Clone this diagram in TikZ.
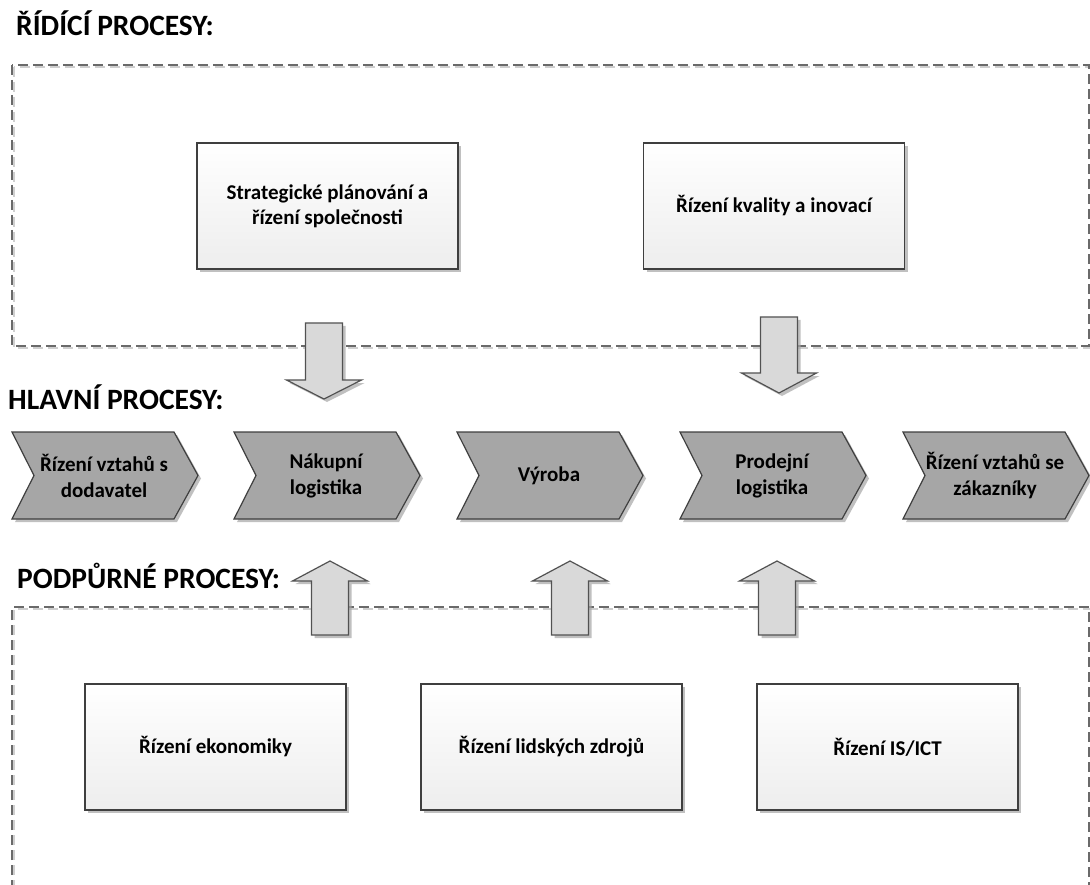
\documentclass[tikz,border=0pt]{standalone}
\usepackage{fontspec}
\setmainfont{Carlito}
\usetikzlibrary{shadows}
\definecolor{edge}{HTML}{3F3F3F}
\definecolor{chevfill}{HTML}{A6A6A6}
\definecolor{arrfill}{HTML}{D9D9D9}
\definecolor{dashdark}{HTML}{6A6A6A}
\definecolor{dashlight}{HTML}{CFCFCF}
\begin{document}
\begin{tikzpicture}[x=1pt,y=-1pt,
  shade3/.style={drop shadow={shadow xshift=3pt,shadow yshift=-3pt,fill=black!35,opacity=0.7}},
  box/.style={draw=edge, line width=1.2pt, top color=white, bottom color=black!7,
    minimum width=261pt, minimum height=126pt, inner sep=0pt, shade3,
    font=\bfseries\fontsize{21}{25}\selectfont, align=center, text=black},
  chev/.style={draw=edge, fill=chevfill, line width=1.2pt, line join=miter, shade3},
  chevtext/.style={font=\bfseries\fontsize{21}{26}\selectfont, align=center, text=black, inner sep=0pt},
  blockarrow/.style={draw=edge!90, fill=arrfill, line width=1.2pt, shade3},
  hdr/.style={font=\bfseries\fontsize{29.5}{33}\selectfont, text=black, inner sep=0pt, anchor=base west},
  dashshadow/.style={draw=dashlight, line width=1.4pt, dash pattern=on 10pt off 5pt},
  dashmain/.style={draw=dashdark, line width=1.4pt, dash pattern=on 10pt off 5pt}
]
\useasboundingbox (0,0) rectangle (1090,885);
\fill[white] (0,0) rectangle (1090,885);

% dashed frames
\draw[dashshadow] (14,67) rectangle (1091,348);
\draw[dashmain] (12,65) rectangle (1089,346);
\draw[dashshadow] (14,890) -- (14,609) -- (1091,609) -- (1091,890);
\draw[dashmain] (12,890) -- (12,607) -- (1089,607) -- (1089,890);

% headers
\node[hdr] (hdrR) at (16,36) {ŘÍDÍCÍ PROCESY:};
\node[hdr] (hdrH) at (8,409) {HLAVNÍ PROCESY:};
\node[hdr] (hdrP) at (17,588) {PODPŮRNÉ PROCESY:};

% top boxes
\node[box] (strat) at (327.5,206) {Strategické plánování a\\řízení společnosti};
\node[box] (kval) at (774,206) {Řízení kvality a inovací};

% bottom boxes
\node[box] (ekon) at (215.5,747) {Řízení ekonomiky};
\node[box] (lz) at (551.5,747) {Řízení lidských zdrojů};
\node[box] (ict) at (887.5,747) {Řízení IS/ICT};

% chevrons
\foreach \L/\nm/\txt in {12/c1/{Řízení vztahů s\\dodavatel},
                        234/c2/{Nákupní\\logistika},
                        457/c3/{Výroba},
                        680/c4/{Prodejní\\logistika},
                        903/c5/{Řízení vztahů se\\zákazníky}}{
  \path[chev] (\L,432) -- ({\L+162},432) -- ({\L+186},475.5) -- ({\L+162},519)
     -- (\L,519) -- ({\L+22},475.5) -- cycle;
  \node[chevtext] (\nm) at ({\L+92},475.5) {\txt};
}

% down arrows
\foreach \c/\t/\h/\p in {324/323/380/399, 779/317/373/393}{
  \path[blockarrow] ({\c-18.5},\t) -- ({\c+18.5},\t) -- ({\c+18.5},\h) -- ({\c+37.5},\h)
     -- (\c,\p) -- ({\c-37.5},\h) -- ({\c-18.5},\h) -- cycle;
}

% up arrows
\foreach \c in {330,570,777}{
  \path[blockarrow] ({\c-18.5},635) -- ({\c+18.5},635) -- ({\c+18.5},581) -- ({\c+37.5},581)
     -- (\c,561) -- ({\c-37.5},581) -- ({\c-18.5},581) -- cycle;
}
\end{tikzpicture}
\end{document}
